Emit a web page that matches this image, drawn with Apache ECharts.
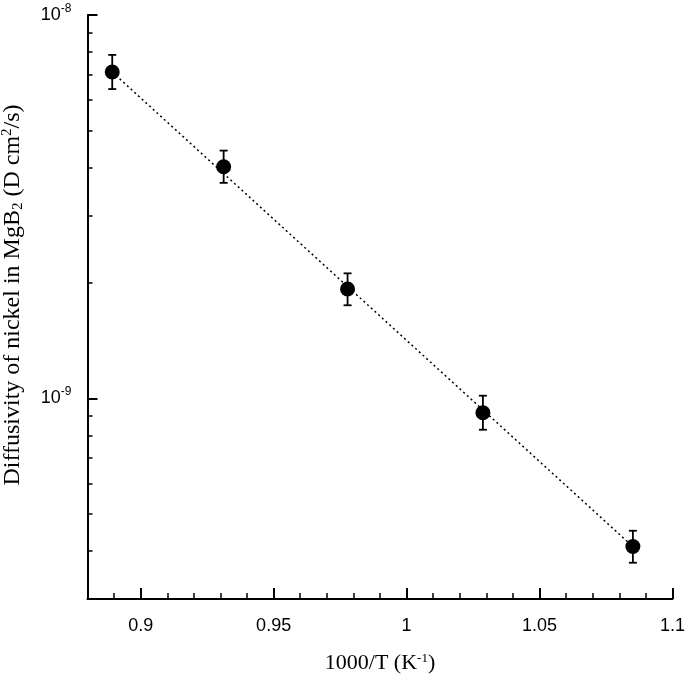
<!DOCTYPE html>
<html><head><meta charset="utf-8">
<script src="https://cdn.jsdelivr.net/npm/echarts@6/dist/echarts.min.js"></script>
<style>html,body{margin:0;padding:0;background:#fff}#c{width:685px;height:675px}</style>
</head><body><div id="c"></div>
<script>
// Data
const invT = [0.8893, 0.9312, 0.9778, 1.0287, 1.0851];
const diffusivity = [7.10e-9, 4.02e-9, 1.93e-9, 9.18e-10, 4.11e-10];
const errLow = [6.41e-9, 3.65e-9, 1.75e-9, 8.29e-10, 3.73e-10];
const errHigh = [7.87e-9, 4.43e-9, 2.12e-9, 1.017e-9, 4.52e-10];
const fitX = [0.8893, 1.0851];
const fitY = [7.10e-9, 4.11e-10];
const xMajorTicks = [0.9, 0.95, 1, 1.05, 1.1];
const yMajorTicks = [1e-9, 1e-8];
const yMinorTicks = [3e-10, 4e-10, 5e-10, 6e-10, 7e-10, 8e-10, 9e-10,
  2e-9, 3e-9, 4e-9, 5e-9, 6e-9, 7e-9, 8e-9, 9e-9];

const chart = echarts.init(document.getElementById('c'));
const sans = 'Liberation Sans';
const serif = 'Liberation Serif';
const axisCol = '#000';

const option = {
  animation: false,
  backgroundColor: '#fff',
  grid: { left: 87.5, right: 12.5, top: 15, bottom: 76, containLabel: false, outerBoundsMode: 'none' },
  xAxis: [
    {
      type: 'value', min: 0.88, max: 1.1, position: 'bottom',
      name: '{t|1000/T (K}{s|-1}{t|)}',
      nameLocation: 'middle', nameGap: 52,
      nameTextStyle: {
        fontFamily: serif, fontSize: 22, color: '#000',
        rich: {
          t: { fontFamily: serif, fontSize: 22, color: '#000', lineHeight: 24 },
          s: { fontFamily: serif, fontSize: 13, color: '#000', lineHeight: 24, padding: [0,0,8,0] }
        }
      },
      axisLine: { onZero: false, lineStyle: { color: axisCol, width: 2 } },
      axisTick: { inside: true, length: 11, customValues: xMajorTicks, lineStyle: { color: axisCol, width: 2 } },
      axisLabel: {
        customValues: xMajorTicks, margin: 18,
        fontFamily: sans, fontSize: 18, color: '#000',
        formatter: v => String(+(+v).toFixed(2))
      },
      splitLine: { show: false }
    },
    {
      type: 'value', min: 0.88, max: 1.1, interval: 0.01, position: 'bottom',
      axisLine: { show: false, onZero: false },
      axisTick: { inside: true, length: 6, lineStyle: { color: axisCol, width: 1.5 } },
      axisLabel: { show: false },
      splitLine: { show: false }
    }
  ],
  yAxis: [
    {
      type: 'log', logBase: 10, min: 3e-10, max: 1e-8, position: 'left',
      name: '{t|Diffusivity of nickel in MgB}{b|2}{t| (D cm}{s|2}{t|/s)}',
      nameLocation: 'middle', nameGap: 62,
      nameTextStyle: {
        fontFamily: serif, fontSize: 24, color: '#000',
        padding: [0, 0, 0, 24],
        rich: {
          t: { fontFamily: serif, fontSize: 24, color: '#000', lineHeight: 26 },
          b: { fontFamily: serif, fontSize: 15, color: '#000', lineHeight: 26, padding: [11,0,0,0] },
          s: { fontFamily: serif, fontSize: 15, color: '#000', lineHeight: 26, padding: [0,0,11,0] }
        }
      },
      axisLine: { onZero: false, lineStyle: { color: axisCol, width: 2 } },
      axisTick: { inside: true, length: 10, customValues: yMajorTicks, lineStyle: { color: axisCol, width: 2 } },
      axisLabel: {
        customValues: yMajorTicks, margin: 16,
        fontFamily: sans, fontSize: 18, color: '#000',
        formatter: v => '{m|10}{s|' + Math.round(Math.log10(v)) + '}',
        rich: {
          m: { fontFamily: sans, fontSize: 18, color: '#000' },
          s: { fontFamily: sans, fontSize: 12, color: '#000', padding: [0,0,13,0] }
        }
      },
      splitLine: { show: false }
    },
    {
      type: 'log', logBase: 10, min: 3e-10, max: 1e-8, position: 'left',
      axisLine: { show: false, onZero: false },
      axisTick: { inside: true, length: 5, customValues: yMinorTicks, lineStyle: { color: axisCol, width: 1.5 } },
      axisLabel: { show: false },
      splitLine: { show: false }
    }
  ],
  series: [
    {
      type: 'line',
      data: fitX.map((x, i) => [x, fitY[i]]),
      symbol: 'none',
      lineStyle: { color: '#000', width: 1.5, type: [2, 3] },
      z: 1
    },
    {
      type: 'custom',
      data: invT.map((x, i) => [x, errLow[i], errHigh[i]]),
      encode: { x: 0, y: [1, 2] },
      renderItem: (params, api) => {
        const x = api.value(0);
        const lo = api.coord([x, api.value(1)]);
        const hi = api.coord([x, api.value(2)]);
        const w = 4;
        const style = { stroke: '#000', lineWidth: 1.8 };
        return {
          type: 'group',
          children: [
            { type: 'line', shape: { x1: lo[0], y1: lo[1], x2: hi[0], y2: hi[1] }, style },
            { type: 'line', shape: { x1: hi[0] - w, y1: hi[1], x2: hi[0] + w, y2: hi[1] }, style },
            { type: 'line', shape: { x1: lo[0] - w, y1: lo[1], x2: lo[0] + w, y2: lo[1] }, style }
          ]
        };
      },
      z: 2
    },
    {
      type: 'scatter',
      data: invT.map((x, i) => [x, diffusivity[i]]),
      symbol: 'circle', symbolSize: 15,
      itemStyle: { color: '#000', opacity: 1 },
      z: 3
    }
  ]
};
chart.setOption(option);
</script>
</body></html>
